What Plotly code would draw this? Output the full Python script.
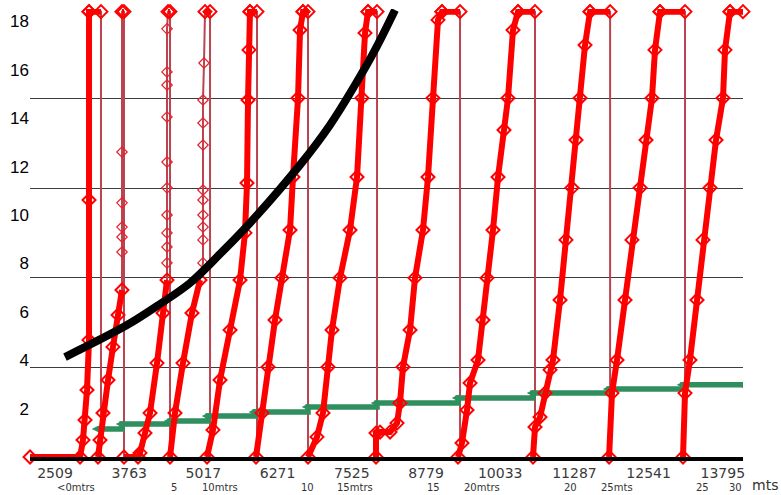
import plotly.graph_objects as go

# ---------------- data ----------------
TOP = 18.4

x_tick_vals = [2509, 3763, 5017, 6271, 7525, 8779, 10033, 11287, 12541, 13795]
x_tick_text = ["2509", "3763", "5017", "6271", "7525", "8779", "10033", "11287", "12541", "13795"]
y_tick_vals = [2, 4, 6, 8, 10, 12, 14, 16, 18]

# red series: each cycle = dense rising part, sparse part, top reached at top_x, falls back at drop_x
rise_x = [
    [2087, 2932, 2982, 3016, 3050, 3084, 3084, 3084],
    [3236, 3270, 3320, 3405, 3489, 3574, 3641],
    [3675, 3912, 3946, 4030, 4115, 4233, 4334, 4402],
    [4453, 4537, 4672, 4824, 4960],
    [5078, 5179, 5298, 5467, 5636, 5720, 5754, 5771, 5788, 5804],
    [5906, 6007, 6109, 6227, 6345, 6481, 6531, 6616, 6650, 6700],
    [6785, 6937, 7038, 7123, 7190, 7326, 7495, 7613, 7697, 7748, 7799],
    [7934, 7934, 8002, 8171, 8289, 8339, 8390, 8509, 8593, 8728, 8813, 8897, 8982, 9049],
    [9320, 9387, 9472, 9523, 9658, 9742, 9810, 9911, 9996, 10097, 10165, 10249, 10334],
    [10587, 10621, 10706, 10790, 10875, 10925, 11044, 11145, 11246, 11314, 11382, 11466, 11551],
    [11873, 11922, 12007, 12142, 12260, 12397, 12497, 12598, 12649, 12734],
    [13122, 13156, 13240, 13359, 13460, 13579, 13680, 13798, 13832, 13917],
]
rise_y = [
    [0, 0, 0.70, 1.53, 2.77, 4.83, 10.62, 18.4],
    [0, 0.70, 1.82, 3.18, 4.55, 5.87, 6.90],
    [0, 0, 0.17, 0.99, 1.82, 3.88, 5.95, 7.31],
    [0, 1.82, 3.88, 5.95, 7.31],
    [0, 1.12, 3.18, 5.25, 7.31, 9.26, 11.32, 14.75, 16.82, 18.4],
    [0, 1.82, 3.72, 5.66, 7.40, 9.38, 11.57, 14.83, 17.64, 18.4],
    [0, 0.83, 1.82, 3.72, 5.25, 7.40, 9.38, 11.57, 14.83, 17.52, 18.4],
    [0, 0.99, 1.03, 1.03, 1.40, 2.23, 3.72, 5.25, 7.40, 9.38, 11.57, 14.83, 18.06, 18.4],
    [0, 0.58, 1.94, 3.06, 4.01, 5.66, 7.40, 9.38, 11.57, 13.51, 14.83, 17.64, 18.4],
    [0, 1.24, 1.65, 2.64, 3.60, 4.01, 6.49, 8.97, 11.12, 13.10, 14.83, 17.02, 18.4],
    [0, 2.64, 4.01, 6.49, 8.97, 11.12, 13.10, 14.83, 16.82, 18.4],
    [0, 2.64, 4.01, 6.49, 8.97, 11.12, 13.10, 14.83, 16.82, 18.4],
]
sparse_x = [
    [],
    [3641, 3641, 3641, 3641, 3641],
    [4402, 4402, 4402, 4402, 4402, 4402, 4402, 4402, 4402, 4402],
    [5010, 5010, 5010, 5010, 5010, 5010, 5010, 5010, 5010, 5027],
    [], [], [], [], [], [], [], [],
]
sparse_y = [
    [],
    [8.47, 9.09, 9.50, 10.50, 12.60],
    [8.02, 8.68, 9.26, 10.0, 11.12, 12.19, 14.05, 15.37, 15.91, 17.69],
    [8.02, 8.97, 9.50, 10.0, 10.62, 11.03, 12.89, 13.80, 14.75, 16.28],
    [], [], [], [], [], [], [], [],
]
top_x = [3084, 3641, 4419, 5044, 5804, 6700, 7799, 9049, 10334, 11551, 12734, 13917]
drop_x = [3286, 3675, 4453, 5129, 5923, 6785, 7951, 9354, 10621, 11890, 13156, 14136]

# green step series
green_x = [3236, 3641, 4453, 5095, 5889, 6785, 7951, 9320, 10587, 11873, 13122, 14136]
green_y = [1.16, 1.36, 1.49, 1.69, 1.86, 2.07, 2.23, 2.44, 2.64, 2.81, 2.98, 2.98]

# black curve
black_x = [2678, 3726, 4284, 4791, 5298, 5804, 6650, 7157, 7579, 7917, 8255]
black_y = [4.13, 5.45, 6.32, 7.19, 8.39, 9.67, 12.07, 13.72, 15.37, 16.82, 18.47]

grid_vals = [3.7, 7.4, 11.1, 14.8, 18.5]

bottom_labels = ["<0mtrs", "5", "10mtrs", "10", "15mtrs", "15", "20mtrs", "20", "25mts", "25", "30"]

# ---------------- build red paths ----------------
thick_x, thick_y, thin_x, thin_y, sp_x, sp_y = [], [], [], [], [], []
n = len(rise_x)
for i in range(n):
    rx, ry, sx, sy = rise_x[i], rise_y[i], sparse_x[i], sparse_y[i]
    thick_x += rx
    thick_y += ry
    thin_x += rx + sx
    thin_y += ry + sy
    sp_x += sx
    sp_y += sy
    if ry[-1] < TOP:
        thick_x.append(None)
        thick_y.append(None)
        thin_x.append(top_x[i])
        thin_y.append(TOP)
    thick_x += [top_x[i], drop_x[i], None]
    thick_y += [TOP, TOP, None]
    thin_x.append(drop_x[i])
    thin_y.append(TOP)
    if i < n - 1:
        thin_x.append(drop_x[i])
        thin_y.append(0)

fig = go.Figure()

fig.add_trace(go.Scatter(x=thin_x, y=thin_y, mode="lines",
                         line=dict(color="#bb4450", width=2), hoverinfo="skip"))
fig.add_trace(go.Scatter(x=green_x, y=green_y, mode="lines+markers", line_shape="hv",
                         line=dict(color="#2f8f5e", width=5.5),
                         marker=dict(symbol="diamond-wide", size=9, color="#2f8f5e")))
fig.add_trace(go.Scatter(x=thick_x, y=thick_y, mode="lines+markers", cliponaxis=False,
                         line=dict(color="#ff0000", width=6),
                         marker=dict(symbol="diamond-open", size=10, color="#ff0000",
                                     line=dict(width=2, color="#ff0000"))))
fig.add_trace(go.Scatter(x=sp_x, y=sp_y, mode="markers", cliponaxis=False,
                         marker=dict(symbol="diamond-open", size=8, color="#e8202a",
                                     line=dict(width=1.2, color="#e8202a"))))
fig.add_trace(go.Scatter(x=black_x, y=black_y, mode="lines",
                         line=dict(color="#000000", width=8, shape="spline", smoothing=1)))

annotations = []
label_pos = [0.0645, 0.2015, 0.2665, 0.3885, 0.4558, 0.5666, 0.634, 0.7574, 0.8233, 0.9425, 0.989]
for txt, px in zip(bottom_labels, label_pos):
    annotations.append(dict(text=txt, x=px, y=-0.0848, xref="paper", yref="paper",
                            xanchor="center", yanchor="bottom", showarrow=False,
                            font=dict(family="DejaVu Sans", size=10, color="#333333")))
annotations.append(dict(text="mts", x=1.01, y=-0.0848, xref="paper", yref="paper",
                        xanchor="left", yanchor="bottom", showarrow=False,
                        font=dict(family="DejaVu Sans", size=14, color="#333333")))

fig.update_layout(
    width=781, height=495,
    margin=dict(l=30, r=38, t=9, b=38, pad=0),
    paper_bgcolor="white", plot_bgcolor="white",
    showlegend=False,
    annotations=annotations,
    xaxis=dict(range=[2086.5, 14136], tickmode="array", tickvals=x_tick_vals, ticktext=x_tick_text,
               showgrid=False, zeroline=False, showline=True, linecolor="black", linewidth=4,
               ticks="", tickfont=dict(family="DejaVu Sans", size=14, color="#3a3a3a")),
    yaxis=dict(range=[0, 18.51], tickmode="array", tickvals=y_tick_vals,
               showgrid=False, zeroline=False, showline=False, ticks="",
               tickfont=dict(family="Liberation Sans", size=17, color="black"),
               minor=dict(tickmode="array", tickvals=grid_vals, showgrid=True,
                          gridcolor="#3c3c3c", gridwidth=1, ticks="")),
)

fig.write_html("out.html")
